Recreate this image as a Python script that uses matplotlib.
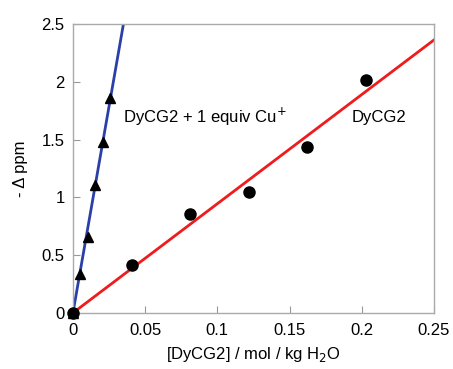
import numpy as np
import matplotlib.pyplot as plt

plt.rcParams['font.family'] = ['Liberation Sans', 'DejaVu Sans']

# DyCG2 alone (circles)
conc_dy = [0.0, 0.041, 0.081, 0.122, 0.162, 0.203]
shift_dy = [0.0, 0.415, 0.856, 1.047, 1.436, 2.015]

# DyCG2 + 1 equiv Cu+ (triangles)
conc_cu = [0.0, 0.0048, 0.0104, 0.0152, 0.0208, 0.0256]
shift_cu = [0.0, 0.337, 0.657, 1.107, 1.479, 1.86]

x_ticks = [0, 0.05, 0.1, 0.15, 0.2, 0.25]
x_ticklabels = ['0', '0.05', '0.1', '0.15', '0.2', '0.25']
y_ticks = [0, 0.5, 1, 1.5, 2, 2.5]
y_ticklabels = ['0', '0.5', '1', '1.5', '2', '2.5']


def slope_through_origin(x, y):
    x = np.array(x)
    y = np.array(y)
    return np.sum(x * y) / np.sum(x * x)


fig = plt.figure(figsize=(4.53, 3.69), dpi=100)
ax = fig.add_axes([0.161, 0.152, 0.797, 0.783])

xx = np.linspace(0, 0.25, 200)
ax.plot(xx, slope_through_origin(conc_dy, shift_dy) * xx, color='#ee1c1c', lw=2, zorder=2)
ax.plot(xx, slope_through_origin(conc_cu, shift_cu) * xx, color='#2b3fa8', lw=2, zorder=2)

ax.plot(conc_cu, shift_cu, '^', color='black', markersize=7, zorder=3, clip_on=False)
ax.plot(conc_dy, shift_dy, 'o', color='black', markersize=8, zorder=4, clip_on=False)

ax.text(0.0346, 1.65, 'DyCG2 + 1 equiv Cu$^{+}$', fontsize=12)
ax.text(0.193, 1.65, 'DyCG2', fontsize=12)

ax.set_xlim(0, 0.25)
ax.set_ylim(0, 2.5)
ax.set_xticks(x_ticks)
ax.set_xticklabels(x_ticklabels)
ax.set_yticks(y_ticks)
ax.set_yticklabels(y_ticklabels)
ax.tick_params(direction='in', length=5, color='#999999', labelsize=12)
ax.tick_params(axis='x', pad=7)
ax.tick_params(axis='y', pad=6)

for s in ax.spines.values():
    s.set_color('#aaaaaa')
    s.set_linewidth(1)

ax.set_xlabel('[DyCG2] / mol / kg H$_2$O', fontsize=12, labelpad=5)
ax.set_ylabel('- Δ ppm', fontsize=12, labelpad=10)

fig.savefig('out.png', dpi=100)
